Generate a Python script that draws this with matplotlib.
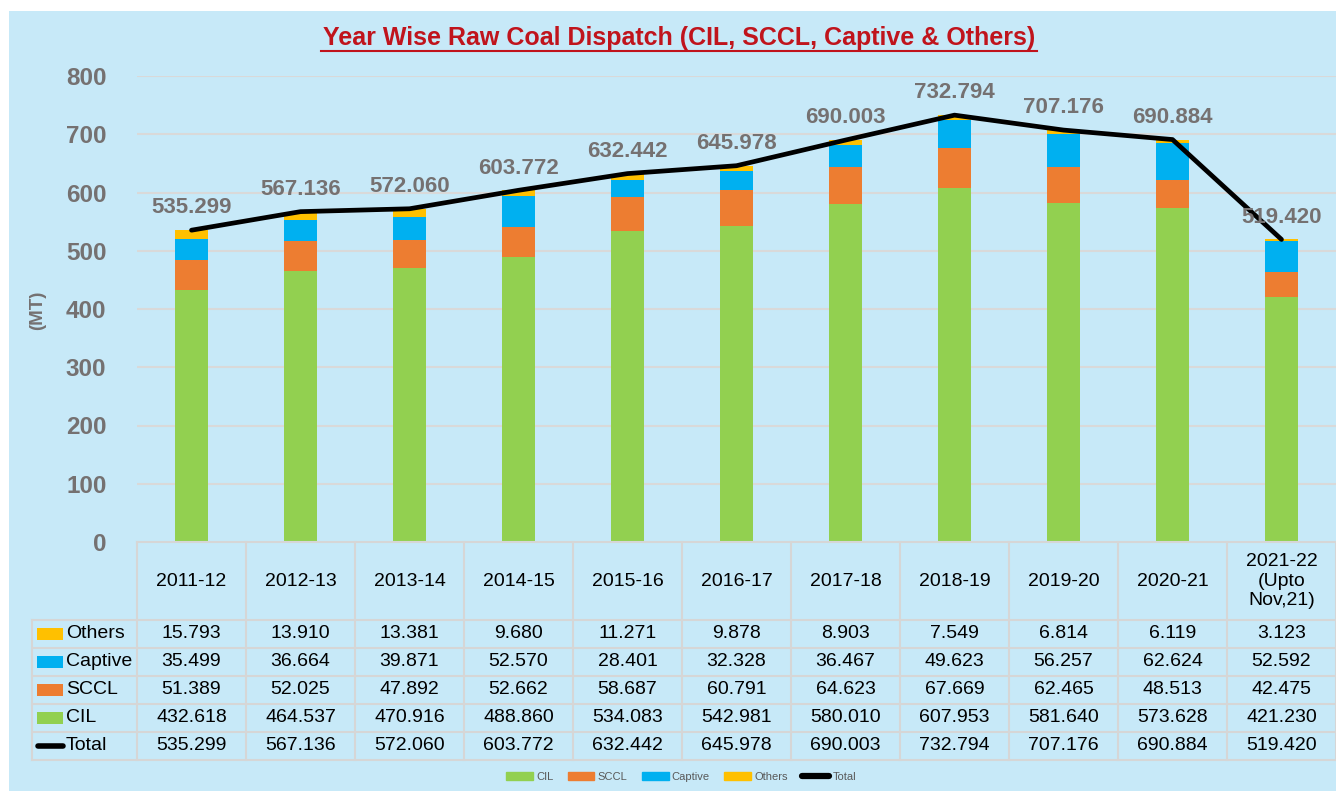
import matplotlib.pyplot as plt
from matplotlib.patches import Rectangle
from matplotlib.lines import Line2D

plt.rcParams['font.family'] = ['Liberation Sans', 'DejaVu Sans']

years = ['2011-12', '2012-13', '2013-14', '2014-15', '2015-16', '2016-17',
         '2017-18', '2018-19', '2019-20', '2020-21', '2021-22\n(Upto\nNov,21)']
cil = [432.618, 464.537, 470.916, 488.860, 534.083, 542.981,
       580.010, 607.953, 581.640, 573.628, 421.230]
sccl = [51.389, 52.025, 47.892, 52.662, 58.687, 60.791,
        64.623, 67.669, 62.465, 48.513, 42.475]
captive = [35.499, 36.664, 39.871, 52.570, 28.401, 32.328,
           36.467, 49.623, 56.257, 62.624, 52.592]
others = [15.793, 13.910, 13.381, 9.680, 11.271, 9.878,
          8.903, 7.549, 6.814, 6.119, 3.123]
total = [535.299, 567.136, 572.060, 603.772, 632.442, 645.978,
         690.003, 732.794, 707.176, 690.884, 519.420]

c_cil, c_sccl, c_cap, c_oth = '#92d050', '#ed7d31', '#00b0f0', '#ffc000'
bg = '#c7e9f8'
grid_c = '#d9d9d9'
gray = '#757171'

W, H = 1336, 791
fig = plt.figure(figsize=(W / 100, H / 100), dpi=100, facecolor='white')
fig.patches.append(Rectangle((9 / W, 0), 1, 1 - 11 / H, transform=fig.transFigure,
                             facecolor=bg, edgecolor='none', zorder=-10))

# main chart
ax = fig.add_axes([137 / W, (H - 542) / H, 1199 / W, 466 / H])
ax.set_facecolor('none')
n = len(years)
x = list(range(n))
ax.set_xlim(-0.5, n - 0.5)
ax.set_ylim(0, 800)
for s in ax.spines.values():
    s.set_visible(False)
ax.set_xticks([])
ax.set_yticks(range(0, 801, 100))
ax.tick_params(axis='y', length=0, pad=22, labelsize=17.5, labelcolor=gray)
for t in ax.get_yticklabels():
    t.set_fontweight('bold')
for v in range(100, 801, 100):
    ax.axhline(v, color=grid_c, lw=1.5, zorder=0)

bw = 0.31
b1 = [c + s for c, s in zip(cil, sccl)]
b2 = [a + c for a, c in zip(b1, captive)]
ax.bar(x, cil, bw, color=c_cil, zorder=2)
ax.bar(x, sccl, bw, bottom=cil, color=c_sccl, zorder=2)
ax.bar(x, captive, bw, bottom=b1, color=c_cap, zorder=2)
ax.bar(x, others, bw, bottom=b2, color=c_oth, zorder=2)
ax.plot(x, total, color='black', lw=3.4, solid_capstyle='round', zorder=5)
for i, v in enumerate(total):
    ax.annotate(f'{v:.3f}', (i, v), xytext=(0, 16), textcoords='offset points',
                ha='center', va='center', fontsize=16, fontweight='bold', color=gray, zorder=6)

fig.text(38 / W, 1 - 310 / H, '(MT)', rotation=90, ha='center', va='center',
         fontsize=13.5, fontweight='bold', color=gray)

fig.text(679 / W, 1 - 38 / H, 'Year Wise Raw Coal Dispatch (CIL, SCCL, Captive & Others)',
         ha='center', va='center', fontsize=18, fontweight='bold', color='#c0141c')
fig.add_artist(Line2D([321 / W, 1037 / W], [1 - 51 / H, 1 - 51 / H],
                      transform=fig.transFigure, color='#c0141c', lw=1.5))

# data table
colw = 1199 / n
lab_w = 105 / colw
hdr_h = 78 / 28
nrows = 5
tax = fig.add_axes([32 / W, (H - 760) / H, (1336 - 32) / W, 218 / H])
tax.set_xlim(-0.5 - lab_w, n - 0.5)
tax.set_ylim(hdr_h + nrows, 0)
tax.axis('off')
tax.set_facecolor('none')
lc = '#d6d6d6'
lw = 1.5
# horizontal lines
tax.plot([-0.5, n - 0.5], [0, 0], color=lc, lw=lw, clip_on=False)
for r in range(nrows + 1):
    tax.plot([-0.5 - lab_w, n - 0.5], [hdr_h + r] * 2, color=lc, lw=lw, clip_on=False)
# vertical lines
tax.plot([-0.5 - lab_w] * 2, [hdr_h, hdr_h + nrows], color=lc, lw=lw, clip_on=False)
for i in range(n + 1):
    tax.plot([i - 0.5] * 2, [0, hdr_h + nrows], color=lc, lw=lw, clip_on=False)

for i, y in enumerate(years):
    tax.text(i, hdr_h / 2, y, ha='center', va='center', fontsize=14, linespacing=1.2)

rows = [('Others', others, c_oth), ('Captive', captive, c_cap),
        ('SCCL', sccl, c_sccl), ('CIL', cil, c_cil), ('Total', total, 'black')]
kx0 = -0.5 - lab_w + 5 / colw
kw = 26 / colw
for r, (name, vals, col) in enumerate(rows):
    yc = hdr_h + r + 0.5
    if name == 'Total':
        tax.plot([kx0 + 0.01, kx0 + kw], [yc, yc], color='black', lw=4,
                 solid_capstyle='round', clip_on=False)
    else:
        tax.add_patch(Rectangle((kx0, yc - 0.2), kw, 0.4, facecolor=col,
                                edgecolor='none', clip_on=False))
    tax.text(kx0 + kw + 3 / colw, yc, name, ha='left', va='center', fontsize=14)
    for i, v in enumerate(vals):
        tax.text(i, yc, f'{v:.3f}', ha='center', va='center', fontsize=14)

# legend at bottom
handles = [Rectangle((0, 0), 1, 1, color=c_cil), Rectangle((0, 0), 1, 1, color=c_sccl),
           Rectangle((0, 0), 1, 1, color=c_cap), Rectangle((0, 0), 1, 1, color=c_oth),
           Line2D([], [], color='black', lw=4.5, solid_capstyle='round')]
leg = fig.legend(handles, ['CIL', 'SCCL', 'Captive', 'Others', 'Total'], ncol=5,
                 loc='center', bbox_to_anchor=(681 / W, 1 - 777 / H), frameon=False,
                 fontsize=8, handlelength=2.4, handleheight=0.7, handletextpad=0.3,
                 columnspacing=1.3)
for t in leg.get_texts():
    t.set_color('#595959')

fig.savefig('out.png', dpi=100, facecolor=fig.get_facecolor())
